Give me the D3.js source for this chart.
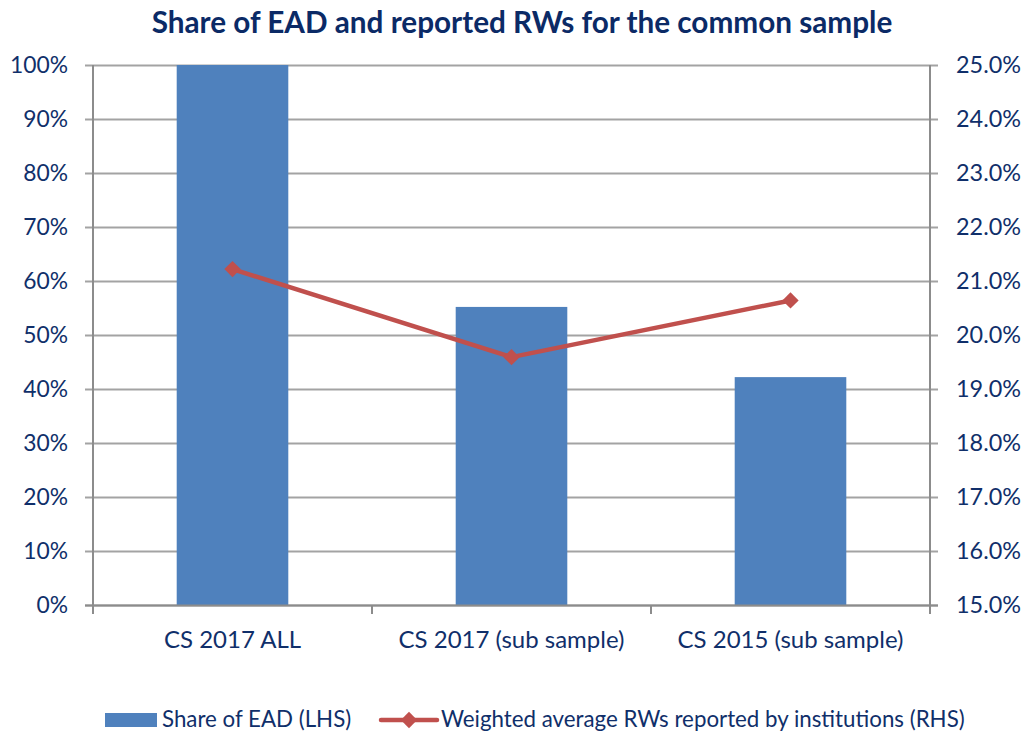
<!DOCTYPE html>
<html>
<head>
<meta charset="utf-8">
<script src="https://cdn.jsdelivr.net/npm/d3@7"></script>
<style>
  body { margin: 0; background: #fff; }
  svg text { font-family: Lato, "Open Sans", sans-serif; fill: #102f6a; }
</style>
</head>
<body>
<div id="chart"></div>
<script>
// Data
const categories = ["CS 2017 ALL", "CS 2017 (sub sample)", "CS 2015 (sub sample)"];
const eadShare = [1.0, 0.552, 0.422];         // bars, left axis
const weightedRW = [0.2122, 0.1959, 0.2064];  // line, right axis
const leftTicks = [0, 0.1, 0.2, 0.3, 0.4, 0.5, 0.6, 0.7, 0.8, 0.9, 1.0];
const rightTicks = [0.15, 0.16, 0.17, 0.18, 0.19, 0.20, 0.21, 0.22, 0.23, 0.24, 0.25];
const seriesNames = ["Share of EAD (LHS)", "Weighted average RWs reported by institutions (RHS)"];

const width = 1028, height = 733;
const margin = { top: 65, right: 98, bottom: 128, left: 93 };
const plotW = width - margin.left - margin.right;
const plotH = height - margin.top - margin.bottom;

const barColor = "#4f81bd";
const lineColor = "#c0504d";
const gridColor = "#a3a3a3";
const axisColor = "#8c8c8c";

const svg = d3.select("#chart").append("svg")
  .attr("width", width)
  .attr("height", height);

// pick a font size so that a sample string is about a given width
function fitSize(sample, targetWidth, weight) {
  const t = svg.append("text")
    .attr("font-size", 100)
    .attr("font-weight", weight || "normal")
    .text(sample);
  const w = t.node().getComputedTextLength();
  t.remove();
  return 100 * targetWidth / w;
}

const x = d3.scaleBand()
  .domain(categories)
  .range([0, plotW])
  .paddingInner(0.6)
  .paddingOuter(0.3);

const yLeft = d3.scaleLinear().domain([0, 1]).range([plotH, 0]);
const yRight = d3.scaleLinear().domain([0.15, 0.25]).range([plotH, 0]);

const g = svg.append("g")
  .attr("transform", `translate(${margin.left},${margin.top})`);

// horizontal gridlines (extend over the tick marks on both sides)
g.append("g")
  .selectAll("line")
  .data(leftTicks)
  .enter()
  .append("line")
  .attr("x1", -8)
  .attr("x2", plotW + 8)
  .attr("y1", (d) => Math.round(yLeft(d)) + 0.5)
  .attr("y2", (d) => Math.round(yLeft(d)) + 0.5)
  .attr("stroke", gridColor)
  .attr("stroke-width", 2);

// bars
g.append("g")
  .selectAll("rect")
  .data(categories)
  .enter()
  .append("rect")
  .attr("x", (d) => x(d))
  .attr("y", (d, i) => yLeft(eadShare[i]))
  .attr("width", x.bandwidth())
  .attr("height", (d, i) => plotH - yLeft(eadShare[i]))
  .attr("fill", barColor);

// axes lines
g.append("line")
  .attr("x1", 0).attr("x2", 0)
  .attr("y1", 0).attr("y2", plotH)
  .attr("stroke", axisColor).attr("stroke-width", 2);
g.append("line")
  .attr("x1", plotW).attr("x2", plotW)
  .attr("y1", 0).attr("y2", plotH)
  .attr("stroke", axisColor).attr("stroke-width", 2);
g.append("line")
  .attr("x1", -8).attr("x2", plotW + 8)
  .attr("y1", plotH + 0.5).attr("y2", plotH + 0.5)
  .attr("stroke", axisColor).attr("stroke-width", 2);

// category tick marks at band boundaries
const boundaries = categories.map((d) => x(d) - (x.step() - x.bandwidth()) / 2).concat([plotW]);
g.append("g")
  .selectAll("line")
  .data(boundaries)
  .enter()
  .append("line")
  .attr("x1", (d) => d).attr("x2", (d) => d)
  .attr("y1", plotH).attr("y2", plotH + 9)
  .attr("stroke", axisColor).attr("stroke-width", 2);

// left tick labels
const tickSize = fitSize("100%", 58);
g.append("g")
  .selectAll("text")
  .data(leftTicks)
  .enter()
  .append("text")
  .attr("x", -25)
  .attr("y", (d) => yLeft(d))
  .attr("dy", "0.36em")
  .attr("text-anchor", "end")
  .attr("font-size", tickSize)
  .text(d3.format(".0%"));

// right tick labels
const rTickSize = fitSize("25.0%", 65);
g.append("g")
  .selectAll("text")
  .data(rightTicks)
  .enter()
  .append("text")
  .attr("x", plotW + 26)
  .attr("y", (d) => yRight(d))
  .attr("dy", "0.36em")
  .attr("text-anchor", "start")
  .attr("font-size", rTickSize)
  .text(d3.format(".1%"));

// category labels
const catSize = fitSize("CS 2017 (sub sample)", 226);
g.append("g")
  .selectAll("text")
  .data(categories)
  .enter()
  .append("text")
  .attr("x", (d) => x(d) + x.bandwidth() / 2)
  .attr("y", plotH + 43)
  .attr("text-anchor", "middle")
  .attr("font-size", catSize)
  .text((d) => d);

// line series on right axis
const line = d3.line()
  .x((d, i) => x(categories[i]) + x.bandwidth() / 2)
  .y((d) => yRight(d));

g.append("path")
  .datum(weightedRW)
  .attr("d", line)
  .attr("fill", "none")
  .attr("stroke", lineColor)
  .attr("stroke-width", 4.5)
  .attr("stroke-linejoin", "round");

const diamond = d3.symbol().type(d3.symbolDiamond2).size(170);
g.append("g")
  .selectAll("path")
  .data(weightedRW)
  .enter()
  .append("path")
  .attr("d", diamond)
  .attr("transform", (d, i) =>
    `translate(${x(categories[i]) + x.bandwidth() / 2},${yRight(d)})`)
  .attr("fill", lineColor);

// title
const titleSize = fitSize("Share of EAD and reported RWs for the common sample", 741, "bold");
svg.append("text")
  .attr("x", 522)
  .attr("y", 33)
  .attr("text-anchor", "middle")
  .attr("font-size", titleSize)
  .attr("font-weight", "bold")
  .style("fill", "#0b2a66")
  .text("Share of EAD and reported RWs for the common sample");

// legend
const legSize = fitSize(seriesNames[1], 524);
const legend = svg.append("g");
legend.append("rect")
  .attr("x", 105).attr("y", 713)
  .attr("width", 52).attr("height", 14)
  .attr("fill", barColor);
legend.append("text")
  .attr("x", 162).attr("y", 727)
  .attr("font-size", legSize)
  .text(seriesNames[0]);

legend.append("line")
  .attr("x1", 381).attr("x2", 437)
  .attr("y1", 720).attr("y2", 720)
  .attr("stroke", lineColor)
  .attr("stroke-width", 4.5)
  .attr("stroke-linecap", "round");
legend.append("path")
  .attr("d", diamond)
  .attr("transform", "translate(409,720)")
  .attr("fill", lineColor);
legend.append("text")
  .attr("x", 441).attr("y", 727)
  .attr("font-size", legSize)
  .text(seriesNames[1]);
</script>
</body>
</html>
